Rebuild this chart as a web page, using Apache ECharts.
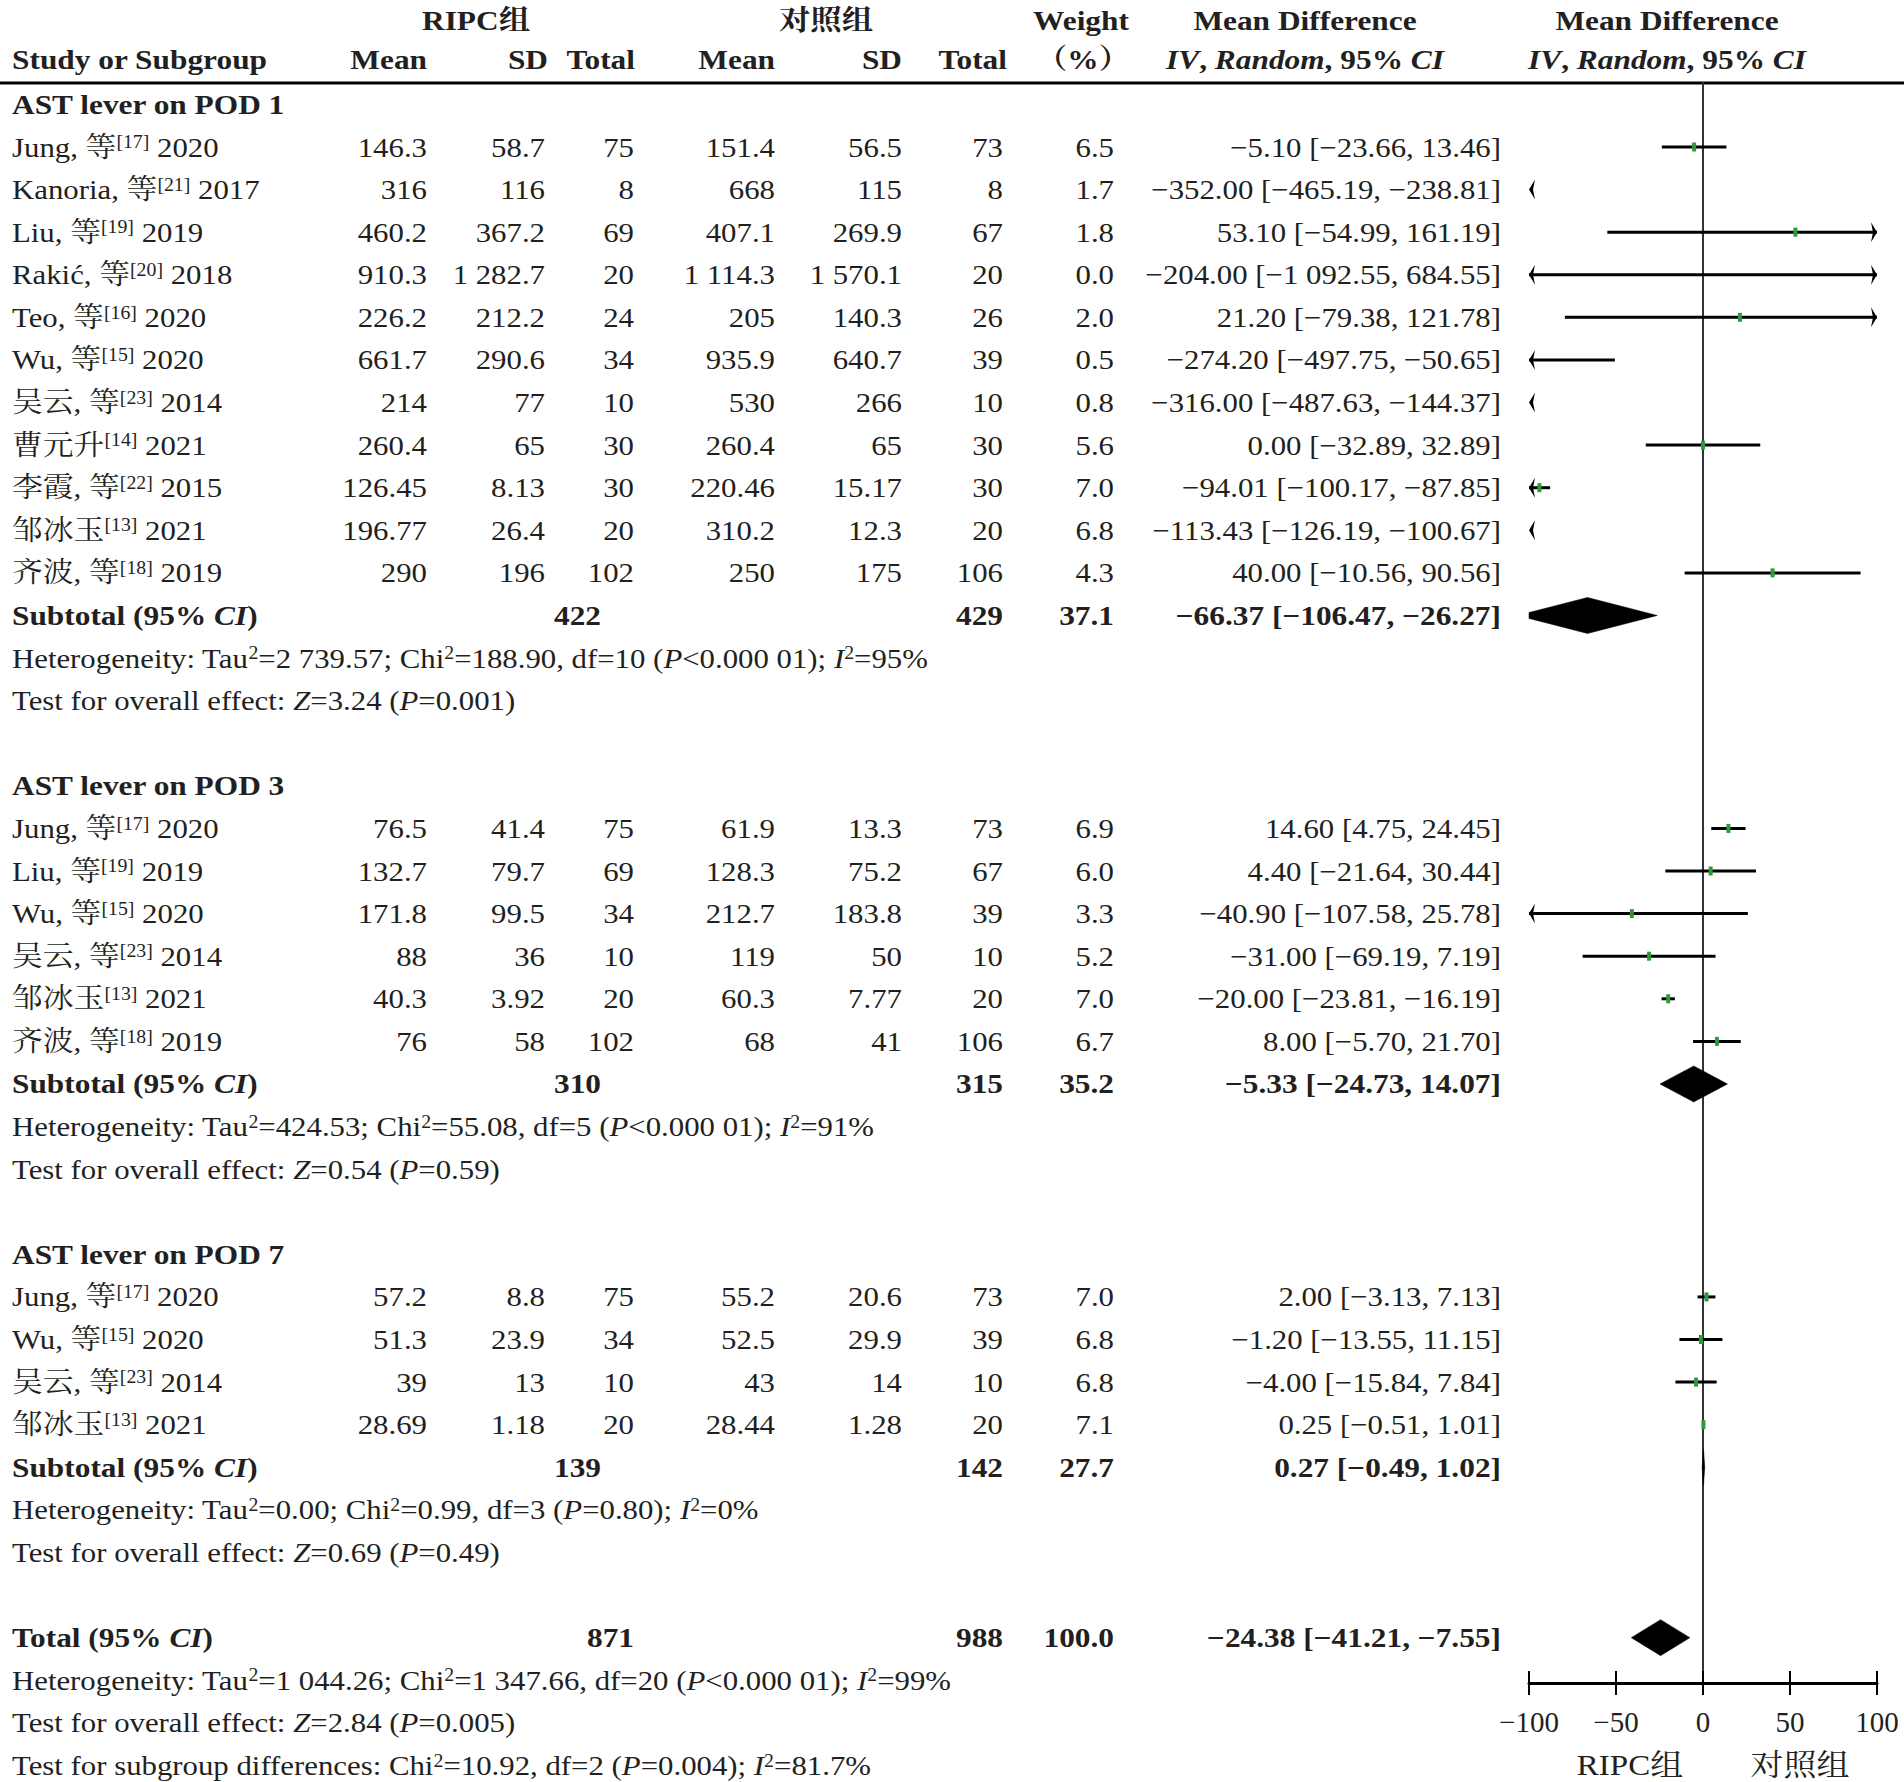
<!DOCTYPE html>
<html><head><meta charset="utf-8">
<script src="https://cdn.jsdelivr.net/npm/echarts@6/dist/echarts.min.js"></script>
<style>html,body{margin:0;padding:0;background:#fff}#c{width:1904px;height:1782px}</style>
</head><body><div id="c"></div>
<script>
// ================= DATA =================
const subgroupTitles = ['AST lever on POD 1', 'AST lever on POD 3', 'AST lever on POD 7'];

const pod1Names = ['Jung, 等', 'Kanoria, 等', 'Liu, 等', 'Rakić, 等', 'Teo, 等', 'Wu, 等', '吴云, 等', '曹元升', '李霞, 等', '邹冰玉', '齐波, 等'];
const pod1Refs = ['17', '21', '19', '20', '16', '15', '23', '14', '22', '13', '18'];
const pod1Years = ['2020', '2017', '2019', '2018', '2020', '2020', '2014', '2021', '2015', '2021', '2019'];
const pod1RipcMean = ['146.3', '316', '460.2', '910.3', '226.2', '661.7', '214', '260.4', '126.45', '196.77', '290'];
const pod1RipcSD = ['58.7', '116', '367.2', '1 282.7', '212.2', '290.6', '77', '65', '8.13', '26.4', '196'];
const pod1RipcN = [75, 8, 69, 20, 24, 34, 10, 30, 30, 20, 102];
const pod1CtrlMean = ['151.4', '668', '407.1', '1 114.3', '205', '935.9', '530', '260.4', '220.46', '310.2', '250'];
const pod1CtrlSD = ['56.5', '115', '269.9', '1 570.1', '140.3', '640.7', '266', '65', '15.17', '12.3', '175'];
const pod1CtrlN = [73, 8, 67, 20, 26, 39, 10, 30, 30, 20, 106];
const pod1Weight = [6.5, 1.7, 1.8, 0.0, 2.0, 0.5, 0.8, 5.6, 7.0, 6.8, 4.3];
const pod1MD = [-5.10, -352.00, 53.10, -204.00, 21.20, -274.20, -316.00, 0.00, -94.01, -113.43, 40.00];
const pod1Lo = [-23.66, -465.19, -54.99, -1092.55, -79.38, -497.75, -487.63, -32.89, -100.17, -126.19, -10.56];
const pod1Hi = [13.46, -238.81, 161.19, 684.55, 121.78, -50.65, -144.37, 32.89, -87.85, -100.67, 90.56];

const pod3Names = ['Jung, 等', 'Liu, 等', 'Wu, 等', '吴云, 等', '邹冰玉', '齐波, 等'];
const pod3Refs = ['17', '19', '15', '23', '13', '18'];
const pod3Years = ['2020', '2019', '2020', '2014', '2021', '2019'];
const pod3RipcMean = ['76.5', '132.7', '171.8', '88', '40.3', '76'];
const pod3RipcSD = ['41.4', '79.7', '99.5', '36', '3.92', '58'];
const pod3RipcN = [75, 69, 34, 10, 20, 102];
const pod3CtrlMean = ['61.9', '128.3', '212.7', '119', '60.3', '68'];
const pod3CtrlSD = ['13.3', '75.2', '183.8', '50', '7.77', '41'];
const pod3CtrlN = [73, 67, 39, 10, 20, 106];
const pod3Weight = [6.9, 6.0, 3.3, 5.2, 7.0, 6.7];
const pod3MD = [14.60, 4.40, -40.90, -31.00, -20.00, 8.00];
const pod3Lo = [4.75, -21.64, -107.58, -69.19, -23.81, -5.70];
const pod3Hi = [24.45, 30.44, 25.78, 7.19, -16.19, 21.70];

const pod7Names = ['Jung, 等', 'Wu, 等', '吴云, 等', '邹冰玉'];
const pod7Refs = ['17', '15', '23', '13'];
const pod7Years = ['2020', '2020', '2014', '2021'];
const pod7RipcMean = ['57.2', '51.3', '39', '28.69'];
const pod7RipcSD = ['8.8', '23.9', '13', '1.18'];
const pod7RipcN = [75, 34, 10, 20];
const pod7CtrlMean = ['55.2', '52.5', '43', '28.44'];
const pod7CtrlSD = ['20.6', '29.9', '14', '1.28'];
const pod7CtrlN = [73, 39, 10, 20];
const pod7Weight = [7.0, 6.8, 6.8, 7.1];
const pod7MD = [2.00, -1.20, -4.00, 0.25];
const pod7Lo = [-3.13, -13.55, -15.84, -0.51];
const pod7Hi = [7.13, 11.15, 7.84, 1.01];

const subtotalRipcN = [422, 310, 139];
const subtotalCtrlN = [429, 315, 142];
const subtotalWeight = [37.1, 35.2, 27.7];
const subtotalMD = [-66.37, -5.33, 0.27];
const subtotalLo = [-106.47, -24.73, -0.49];
const subtotalHi = [-26.27, 14.07, 1.02];
const subtotalHet = [
  'Heterogeneity: Tau{s|2}=2 739.57; Chi{s|2}=188.90, df=10 ({i|P}<0.000 01); {i|I}{s|2}=95%',
  'Heterogeneity: Tau{s|2}=424.53; Chi{s|2}=55.08, df=5 ({i|P}<0.000 01); {i|I}{s|2}=91%',
  'Heterogeneity: Tau{s|2}=0.00; Chi{s|2}=0.99, df=3 ({i|P}=0.80); {i|I}{s|2}=0%'
];
const subtotalTest = [
  'Test for overall effect: {i|Z}=3.24 ({i|P}=0.001)',
  'Test for overall effect: {i|Z}=0.54 ({i|P}=0.59)',
  'Test for overall effect: {i|Z}=0.69 ({i|P}=0.49)'
];

const totalRipcN = [871];
const totalCtrlN = [988];
const totalWeight = [100.0];
const totalMD = [-24.38];
const totalLo = [-41.21];
const totalHi = [-7.55];
const totalHet = 'Heterogeneity: Tau{s|2}=1 044.26; Chi{s|2}=1 347.66, df=20 ({i|P}<0.000 01); {i|I}{s|2}=99%';
const totalTest = 'Test for overall effect: {i|Z}=2.84 ({i|P}=0.005)';
const subgroupDiff = 'Test for subgroup differences: Chi{s|2}=10.92, df=2 ({i|P}=0.004); {i|I}{s|2}=81.7%';

const xTicks = [-100, -50, 0, 50, 100];
const favourLabels = ['RIPC组', '对照组'];
const headerTop = ['RIPC组', '对照组', 'Weight', 'Mean Difference', 'Mean Difference'];
const headerBottom = ['Study or Subgroup', 'Mean', 'SD', 'Total', 'Mean', 'SD', 'Total', '（%）',
  '{bi|IV}, {bi|Random}, 95% {bi|CI}', '{bi|IV}, {bi|Random}, 95% {bi|CI}'];

// ================= LAYOUT =================
const W = 1904, H = 1782;
const ROW0 = 104.4, ROWH = 42.59, RULE_Y = 83, AXIS_Y = 1683;
const PLOT_L = 1529, PLOT_W = 348;
const XMIN = -100, XMAX = 100;
const rowOf = y => (y - ROW0) / ROWH;
const F = '"Liberation Serif","Times New Roman","Noto Serif CJK SC","Noto Sans CJK SC",serif';
const C = '#231f20';
const FS = 28, SX = 1.1, SXB = 1.12;
const COL = { name: 12, rMean: 427, rSD: 545, rN: 634, subRN: 601, cMean: 775, cSD: 902, cN: 1003, w: 1114, md: 1501 };
const HDR_TOP_X = [476, 826, 1081, 1305, 1667];
const HDR_BOT = [[12, 'left'], [427, 'right'], [548, 'right'], [635, 'right'], [775, 'right'], [902, 'right'],
  [1007, 'right'], [1083, 'center'], [1305, 'center'], [1667, 'center']];
const FAV_X = [1630, 1800];

function tok(o) { return Object.assign({ fontFamily: F, fontSize: FS, fontWeight: 'normal', fontStyle: 'normal', fill: C }, o); }
const RICH = {
  i: tok({ fontStyle: 'italic' }),
  bi: tok({ fontWeight: 'bold', fontStyle: 'italic' }),
  s: tok({ fontSize: 18, verticalAlign: 'top' })
};

function fmt(v, d) {
  const s = Math.abs(v).toFixed(d).split('.');
  const ip = s[0].replace(/\B(?=(\d{3})+(?!\d))/g, ' ');
  return (v < 0 ? '−' : '') + ip + (s[1] !== undefined ? '.' + s[1] : '');
}
const ciText = (m, l, h) => `${fmt(m, 2)} [${fmt(l, 2)}, ${fmt(h, 2)}]`;

// ================= BUILD ROWS =================
const groups = [
  { names: pod1Names, refs: pod1Refs, years: pod1Years, rm: pod1RipcMean, rs: pod1RipcSD, rn: pod1RipcN, cm: pod1CtrlMean, cs: pod1CtrlSD, cn: pod1CtrlN, w: pod1Weight, md: pod1MD, lo: pod1Lo, hi: pod1Hi },
  { names: pod3Names, refs: pod3Refs, years: pod3Years, rm: pod3RipcMean, rs: pod3RipcSD, rn: pod3RipcN, cm: pod3CtrlMean, cs: pod3CtrlSD, cn: pod3CtrlN, w: pod3Weight, md: pod3MD, lo: pod3Lo, hi: pod3Hi },
  { names: pod7Names, refs: pod7Refs, years: pod7Years, rm: pod7RipcMean, rs: pod7RipcSD, rn: pod7RipcN, cm: pod7CtrlMean, cs: pod7CtrlSD, cn: pod7CtrlN, w: pod7Weight, md: pod7MD, lo: pod7Lo, hi: pod7Hi }
];

const cells = [];
function cell(x, r, text, align, bold, size) { cells.push({ value: [x, r], text: String(text), align, bold: !!bold, size: size || FS }); }
const studyPts = [];
const diamonds = [];

headerTop.forEach((t, i) => cell(HDR_TOP_X[i], rowOf(20.6), t, 'center', true));
headerBottom.forEach((t, i) => cell(HDR_BOT[i][0], rowOf(59.5), t, HDR_BOT[i][1], true));

let r = 0;
groups.forEach((g, gi) => {
  cell(COL.name, r, subgroupTitles[gi], 'left', true); r++;
  g.names.forEach((nm, i) => {
    cell(COL.name, r, `${nm}{s|[${g.refs[i]}]} ${g.years[i]}`, 'left');
    cell(COL.rMean, r, g.rm[i], 'right');
    cell(COL.rSD, r, g.rs[i], 'right');
    cell(COL.rN, r, g.rn[i], 'right');
    cell(COL.cMean, r, g.cm[i], 'right');
    cell(COL.cSD, r, g.cs[i], 'right');
    cell(COL.cN, r, g.cn[i], 'right');
    cell(COL.w, r, fmt(g.w[i], 1), 'right');
    cell(COL.md, r, ciText(g.md[i], g.lo[i], g.hi[i]), 'right');
    studyPts.push([g.md[i], g.lo[i], g.hi[i], r]);
    r++;
  });
  cell(COL.name, r, 'Subtotal (95% {bi|CI})', 'left', true);
  cell(COL.subRN, r, subtotalRipcN[gi], 'right', true);
  cell(COL.cN, r, subtotalCtrlN[gi], 'right', true);
  cell(COL.w, r, fmt(subtotalWeight[gi], 1), 'right', true);
  cell(COL.md, r, ciText(subtotalMD[gi], subtotalLo[gi], subtotalHi[gi]), 'right', true);
  diamonds.push([subtotalMD[gi], subtotalLo[gi], subtotalHi[gi], r]);
  r++;
  cell(COL.name, r, subtotalHet[gi], 'left'); r++;
  cell(COL.name, r, subtotalTest[gi], 'left'); r++;
  r++;
});
cell(COL.name, r, 'Total (95% {bi|CI})', 'left', true);
cell(COL.rN, r, totalRipcN[0], 'right', true);
cell(COL.cN, r, totalCtrlN[0], 'right', true);
cell(COL.w, r, fmt(totalWeight[0], 1), 'right', true);
cell(COL.md, r, ciText(totalMD[0], totalLo[0], totalHi[0]), 'right', true);
diamonds.push([totalMD[0], totalLo[0], totalHi[0], r]);
r++;
cell(COL.name, r, totalHet, 'left'); r++;
cell(COL.name, r, totalTest, 'left'); r++;
cell(COL.name, r, subgroupDiff, 'left');
favourLabels.forEach((t, i) => cell(FAV_X[i], r, t, 'center', false, 30));

// ================= RENDERERS =================
function renderCell(params, api) {
  const c = cells[params.dataIndex];
  const p = api.coord([api.value(0), api.value(1)]);
  return {
    type: 'text', x: p[0], y: p[1], scaleX: c.bold ? SXB : SX, silent: true,
    style: {
      legacy: false, text: c.text, rich: RICH, fontFamily: F, fontSize: c.size,
      fontWeight: c.bold ? 'bold' : 'normal', fill: C, align: c.align, verticalAlign: 'middle'
    }
  };
}
function arrow(x, y, dir) {
  return { type: 'polygon', shape: { points: [[x, y], [x - dir * 6, y - 10], [x - dir * 4, y], [x - dir * 6, y + 10]] }, style: { fill: '#000' } };
}
function renderStudy(params, api) {
  const md = api.value(0), lo = api.value(1), hi = api.value(2), row = api.value(3);
  const X = v => api.coord([v, row])[0];
  const y = api.coord([0, row])[1];
  const ch = [];
  const a = Math.max(lo, XMIN), b = Math.min(hi, XMAX);
  if (b > a) ch.push({ type: 'line', shape: { x1: X(a), y1: y, x2: X(b), y2: y }, style: { stroke: '#000', lineWidth: 3 } });
  if (lo < XMIN) ch.push(arrow(X(XMIN), y, -1));
  if (hi > XMAX) ch.push(arrow(X(XMAX), y, 1));
  if (md >= XMIN && md <= XMAX) ch.push({ type: 'rect', shape: { x: X(md) - 2, y: y - 4.5, width: 4, height: 9 }, style: { fill: '#2f9a3a' } });
  return { type: 'group', children: ch };
}
function renderDiamond(params, api) {
  const md = api.value(0), lo = api.value(1), hi = api.value(2), row = api.value(3);
  const X = v => api.coord([v, row])[0];
  const y = api.coord([0, row])[1];
  const hh = 18;
  const pts = [];
  if (lo < XMIN) { const f = (XMIN - lo) / (md - lo) * hh; pts.push([X(XMIN), y + f], [X(XMIN), y - f]); }
  else pts.push([X(lo), y]);
  pts.push([X(md), y - hh]);
  if (hi > XMAX) { const f = (hi - XMAX) / (hi - md) * hh; pts.push([X(XMAX), y - f], [X(XMAX), y + f]); }
  else pts.push([X(hi), y]);
  pts.push([X(md), y + hh]);
  return { type: 'polygon', shape: { points: pts }, style: { fill: '#000', stroke: '#000', lineWidth: 0.5 } };
}

// ================= CHART =================
const chart = echarts.init(document.getElementById('c'), null, { renderer: 'svg', width: W, height: H });
chart.setOption({
  backgroundColor: '#fff',
  animation: false,
  grid: [
    { left: 0, top: 0, width: W, height: H },
    { left: PLOT_L, top: RULE_Y, width: PLOT_W, height: AXIS_Y - RULE_Y }
  ],
  xAxis: [
    { gridIndex: 0, type: 'value', min: 0, max: W, show: false },
    {
      gridIndex: 1, type: 'value', min: xTicks[0], max: xTicks[xTicks.length - 1], interval: 50, position: 'bottom',
      axisLine: { show: true, onZero: false, lineStyle: { color: '#000', width: 3 } },
      axisTick: { show: true, length: 12, lineStyle: { color: '#000', width: 2 } },
      axisLabel: {
        show: true, margin: 24, fontFamily: F, fontSize: 29, color: C,
        formatter: v => (v < 0 ? '−' : '') + Math.abs(v)
      },
      splitLine: { show: false }
    },
    {
      gridIndex: 1, type: 'value', min: xTicks[0], max: xTicks[xTicks.length - 1], interval: 50, position: 'bottom',
      axisLine: { show: false, onZero: false },
      axisTick: { show: true, inside: true, length: 12, lineStyle: { color: '#000', width: 2 } },
      axisLabel: { show: false }, splitLine: { show: false }
    }
  ],
  yAxis: [
    { gridIndex: 0, type: 'value', inverse: true, min: rowOf(0), max: rowOf(H), show: false },
    {
      gridIndex: 1, type: 'value', inverse: true, min: rowOf(RULE_Y), max: rowOf(AXIS_Y),
      axisLine: { show: true, onZero: true, lineStyle: { color: '#333', width: 2 } },
      axisTick: { show: false }, axisLabel: { show: false }, splitLine: { show: false }
    }
  ],
  graphic: [
    { type: 'line', shape: { x1: 0, y1: RULE_Y, x2: W, y2: RULE_Y }, style: { stroke: '#000', lineWidth: 3 }, silent: true }
  ],
  series: [
    { type: 'custom', coordinateSystem: 'cartesian2d', xAxisIndex: 0, yAxisIndex: 0, silent: true, data: cells.map(c => c.value), renderItem: renderCell },
    { type: 'custom', coordinateSystem: 'cartesian2d', xAxisIndex: 1, yAxisIndex: 1, silent: true, data: studyPts, renderItem: renderStudy },
    { type: 'custom', coordinateSystem: 'cartesian2d', xAxisIndex: 1, yAxisIndex: 1, silent: true, data: diamonds, renderItem: renderDiamond }
  ]
});
</script>
</body></html>
